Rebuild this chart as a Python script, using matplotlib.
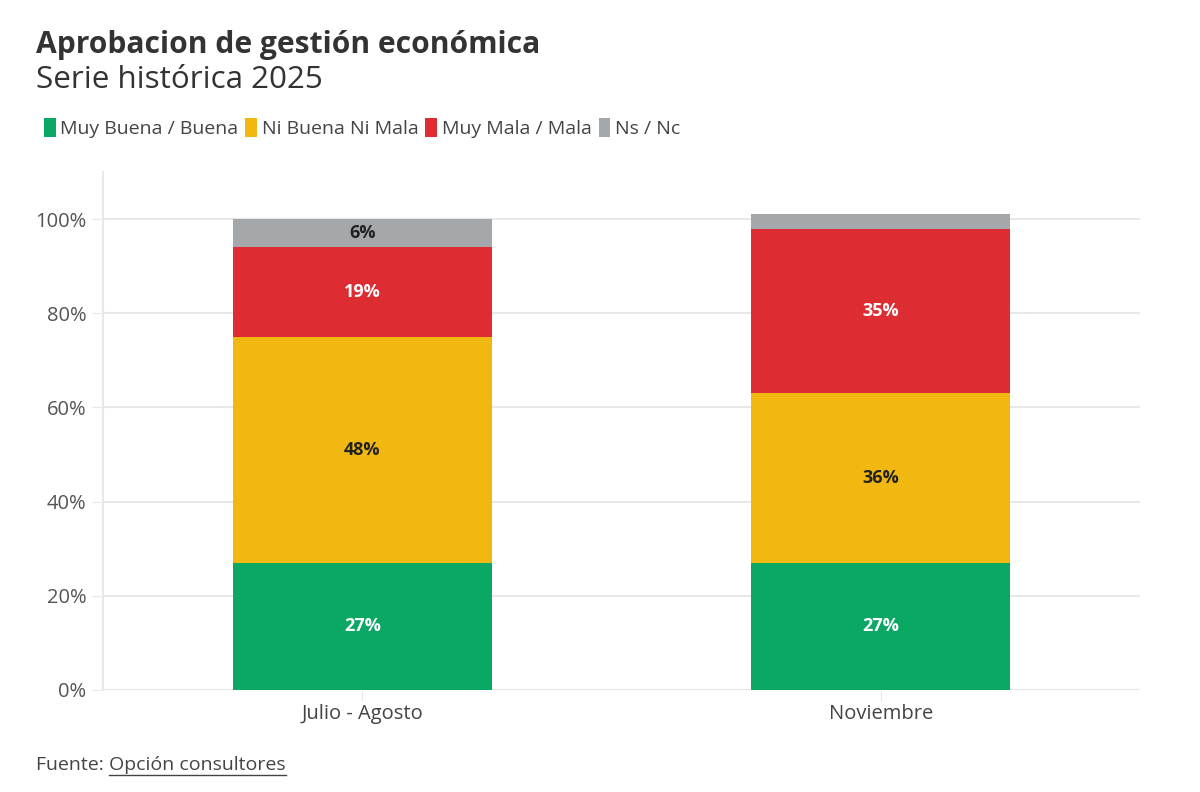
import numpy as np
import matplotlib.pyplot as plt
from matplotlib.patches import Patch

# data
periods = ["Julio - Agosto", "Noviembre"]
series = ["Muy Buena / Buena", "Ni Buena Ni Mala", "Muy Mala / Mala", "Ns / Nc"]
buena = [27, 27]
ni_ni = [48, 36]
mala = [19, 35]
ns_nc = [6, 3]
labels_shown = [[True, True], [True, True], [True, True], [True, False]]

colors = ["#0aa864", "#f1b811", "#de2c33", "#a5a8ab"]
text_colors = ["white", "#222222", "white", "#222222"]

plt.rcParams['font.family'] = ['Open Sans', 'DejaVu Sans']

fig = plt.figure(figsize=(12, 7.92), dpi=100)
ax = fig.add_axes([0.0858, 0.1288, 0.8642, 0.654])

x = np.arange(len(periods))
bottom = np.zeros(len(periods))
for k, vals in enumerate([buena, ni_ni, mala, ns_nc]):
    vals = np.array(vals, dtype=float)
    ax.bar(x, vals, 0.5, bottom=bottom, color=colors[k], zorder=3)
    for i in range(len(x)):
        if labels_shown[k][i]:
            ax.text(x[i], bottom[i] + vals[i] / 2, f"{int(vals[i])}%", ha='center', va='center',
                    color=text_colors[k], fontsize=13, fontweight='bold', zorder=4)
    bottom += vals

ax.set_xlim(-0.5, 1.5)
ax.set_ylim(0, 110)
ax.set_yticks(np.arange(0, 101, 20))
ax.set_yticklabels([f"{v}%" for v in range(0, 101, 20)])
ax.set_xticks(x)
ax.set_xticklabels(periods)
ax.grid(axis='y', color='#e8e8e8', linewidth=1.5, zorder=0)
for s in ['top', 'right', 'bottom']:
    ax.spines[s].set_visible(False)
ax.spines['left'].set_color('#e8e8e8')
ax.spines['left'].set_linewidth(1.5)
ax.tick_params(axis='y', length=8, color='#e8e8e8', labelsize=14.5, labelcolor='#555555', pad=4)
ax.tick_params(axis='x', length=8, color='#e8e8e8', labelsize=14.5, labelcolor='#444444', pad=2)

fig.text(0.03, 0.933, "Aprobacion de gestión económica", fontsize=21.6, fontweight='bold', color='#333333', va='baseline')
fig.text(0.03, 0.889, "Serie histórica 2025", fontsize=22.6, fontweight='normal', color='#333333', va='baseline')

handles = [Patch(facecolor=c, edgecolor='none') for c in colors]
fig.legend(handles, series, loc='center left', bbox_to_anchor=(0.022, 0.838), ncol=4, frameon=False,
           fontsize=14, handlelength=0.6, handleheight=1.1, handletextpad=0.25, columnspacing=0.35,
           labelcolor='#444444')

t1 = fig.text(0.03, 0.028, "Fuente: ", fontsize=14, color='#444444', va='baseline')
fig.canvas.draw()
r = fig.canvas.get_renderer()
bb = t1.get_window_extent(r)
x2 = bb.x1 / fig.bbox.width
t2 = fig.text(x2, 0.028, "Opción consultores", fontsize=14, color='#444444', va='baseline')
bb2 = t2.get_window_extent(r)
fig.add_artist(plt.Line2D([x2, bb2.x1 / fig.bbox.width], [0.022, 0.022], color='#444444', linewidth=1))

fig.savefig("out.png", dpi=100, facecolor='white')
